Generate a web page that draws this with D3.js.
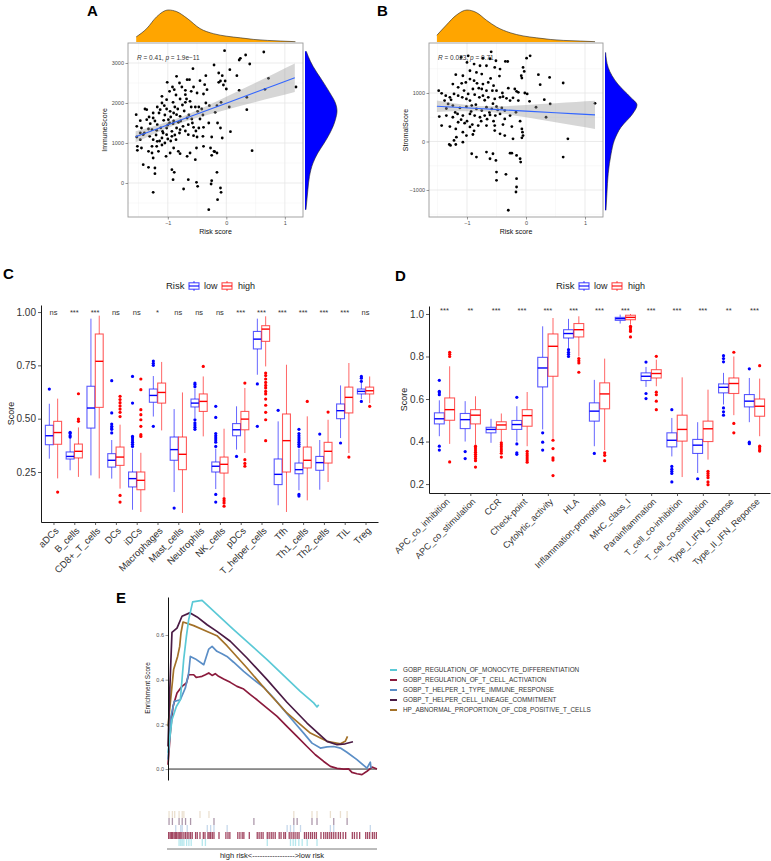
<!DOCTYPE html>
<html><head><meta charset="utf-8">
<script src="https://cdn.jsdelivr.net/npm/d3@7"></script>
<style>
body{margin:0;background:#fff}
svg{display:block}
text{font-family:"Liberation Sans",Arial,Helvetica,sans-serif}
</style>
</head><body>
<svg id="c" width="771" height="861"></svg>
<script>
// ---------------- DATA ----------------
// Panel A: risk score vs ImmuneScore
const pointsA = [
[-0.03,3308],[0.64,3275],[0.33,3200],[0.24,3117],[0.22,3075],[0.40,2975],[-0.21,2950],[-0.57,2858],[0.06,2833],[-0.13,2750],[-0.35,2683],[-0.07,2683],[0.18,2683],[-0.85,2667],[0.72,2617],[-0.67,2583],[-0.63,2583],[-0.45,2558],[-0.10,2550],[-1.01,2517],[-0.13,2517],[-0.80,2500],[-0.76,2400],[-0.56,2400],[-0.37,2458],[-0.33,2333],[0.00,2350],[0.22,2317],[0.66,2342],[1.19,2400],[-0.89,2333],[-0.70,2317],[-0.97,2292],[-0.60,2292],[-0.50,2250],[-0.39,2225],[-1.10,2167],[-1.02,2083],[-0.79,2100],[-0.70,2208],[0.35,2142],[-0.09,2017],[-0.91,2017],[-0.70,2017],[-0.62,2042],[-0.53,1900],[-0.47,1900],[-0.42,1850],[-0.29,1933],[-0.16,1933],[-0.49,1792],[-0.19,1767],[0.35,1833],[-1.10,2000],[-1.06,1933],[-1.18,1900],[-1.25,1750],[-1.36,1833],[-1.39,1850],[-1.13,1833],[-1.02,1850],[-0.96,1792],[-0.90,1750],[-0.85,1708],[-0.79,1667],[-0.67,1625],[-0.59,1600],[-1.25,1625],[-1.30,1483],[-1.18,1458],[-1.07,1567],[-0.99,1583],[-0.91,1483],[-0.82,1517],[-0.74,1417],[-0.65,1458],[-0.56,1392],[-0.85,1375],[-0.79,1333],[-1.02,1375],[-0.93,1292],[-1.09,1292],[-1.19,1317],[-1.27,1333],[-1.33,1350],[-1.45,1375],[-1.53,1417],[-1.54,1708],[-1.47,1558],[-1.36,1583],[-0.10,1375],[0.07,1283],[-0.39,1392],[-0.47,1375],[-0.65,1208],[-0.56,1183],[-0.50,1150],[-0.40,1167],[-0.07,1125],[-0.27,875],[-0.21,792],[-0.39,917],[-0.51,875],[-0.62,750],[-0.67,667],[-0.53,583],[-1.47,1250],[-1.53,1150],[-1.42,1208],[-1.31,1167],[-1.25,1083],[-1.18,1042],[-1.10,1125],[-1.02,1208],[-0.93,1167],[-0.86,1083],[-1.19,917],[-1.27,917],[-1.33,792],[-1.27,750],[-1.16,792],[-1.47,1083],[-1.52,917],[-1.45,875],[-1.52,817],[-0.90,875],[-0.82,792],[-0.96,750],[-1.03,667],[-0.79,733],[-1.25,625],[0.44,808],[-0.16,750],[-0.20,783],[-0.25,692],[-1.42,458],[-1.33,392],[-1.22,375],[-1.22,233],[-0.93,333],[-0.89,267],[-0.91,83],[-1.25,-233],[-0.65,83],[-0.51,17],[-0.49,-83],[-0.25,58],[-0.26,-25],[-0.16,267],[-0.10,-125],[-0.15,-417],[-0.73,-150],[-0.30,-667],[-0.09,-233],
[-1.15,1750],[-1.05,1700],[-0.95,1650],[-0.88,1900],[-0.83,1850],[-0.75,1950],[-0.72,1800],[-1.00,1450],[-0.97,1500],[-0.90,1550],[-1.12,1380],[-1.08,1250],[-1.00,1100],[-0.95,1050],[-1.20,1200],[-1.05,1000],[-0.88,1200],[-0.80,1250],[-0.70,1300],[-0.78,1550],[-0.64,1700],[-0.60,1900],[-0.68,2100],[-0.86,2200],[-0.92,2400],[-1.14,1050],[-1.10,950],[-1.22,1550],[-1.32,1650],[-1.40,1250],[-0.58,1500],[-0.52,1300],[-0.45,1600],[-0.40,1700],[-0.30,1500],[-0.35,2000],[-0.25,1150],[-0.15,1500],[-0.05,2450],[-0.02,2550],[0.05,1900]
];
// fitted line + 95% band: [x, fit, lower, upper]
const fitA = [[-1.55,1155,1016,1294],[-1.2,1345,1253,1437],[-0.85,1535,1465,1605],[-0.5,1725,1633,1817],[0,1996,1834,2158],[0.5,2267,2025,2509],[0.85,2456,2156,2756],[1.17,2630,2275,2985]];
const densTopA = [[-1.54,0.16],[-1.36,0.42],[-1.19,0.79],[-0.99,1.0],[-0.85,0.95],[-0.67,0.74],[-0.45,0.42],[-0.22,0.26],[0.01,0.18],[0.24,0.13],[0.47,0.08],[0.70,0.05],[0.93,0.03],[1.18,0.01]];
const densRightA = [[3292,0.04],[3167,0.1],[2917,0.25],[2583,0.52],[2250,0.78],[2000,0.95],[1800,1.0],[1583,0.95],[1250,0.78],[1000,0.6],[750,0.4],[500,0.25],[167,0.14],[-167,0.09],[-500,0.05],[-667,0.03]];

// Panel B: risk score vs StromalScore
const pointsB = [
[-0.59,1850],[-0.98,1767],[-1.10,1733],[-0.73,1719],[-0.61,1706],[-0.51,1665],[-0.35,1651],[-1.00,1630],[-0.88,1596],[-0.78,1562],[-0.67,1562],[-0.53,1528],[-0.44,1493],[0.07,1767],[0.01,1719],[-0.05,1528],[-0.03,1445],[-0.08,1356],[-0.07,1308],[-1.19,1377],[-1.07,1356],[-0.95,1459],[-0.84,1425],[-0.75,1391],[-1.02,1219],[-0.95,1288],[-0.88,1254],[-0.83,1199],[-0.73,1185],[-0.64,1219],[-1.09,1199],[-1.24,1185],[-1.15,1117],[-0.90,1082],[-0.75,1082],[-0.67,1048],[-0.57,1048],[-0.50,1048],[-0.19,1082],[-0.16,1034],[-0.13,1014],[0.21,1377],[0.24,1171],[0.40,1322],[0.63,1206],[-1.48,1048],[-1.43,993],[-1.36,945],[-1.29,911],[-1.22,980],[-1.15,945],[-1.08,911],[-1.01,877],[-0.95,843],[-0.87,966],[-0.79,911],[-0.73,945],[-0.64,911],[-0.53,877],[-0.44,911],[-0.39,925],[-0.33,891],[-1.38,843],[-1.32,774],[-1.24,740],[-1.12,692],[-1.01,719],[-0.92,740],[-0.84,671],[-0.75,637],[-0.67,706],[-0.58,671],[-0.50,719],[-0.41,692],[-0.36,637],[-0.27,843],[-0.13,843],[0.06,829],[0.17,706],[0.31,863],[0.41,774],[0.34,500],[-1.47,514],[-1.35,534],[-1.24,500],[-1.16,569],[-1.07,534],[-0.95,569],[-0.87,534],[-0.78,500],[-0.70,534],[-0.61,548],[-0.52,534],[-0.44,569],[-0.36,466],[-0.27,534],[-0.17,603],[-1.15,397],[-1.04,377],[-0.91,349],[-0.81,329],[-0.67,329],[-0.53,329],[-0.39,349],[-0.24,308],[-1.43,329],[-1.29,308],[-0.10,418],[-1.19,260],[-1.07,192],[-1.01,123],[-0.90,144],[-1.18,89],[-1.22,21],[-1.07,-14],[-1.30,-62],[-1.28,-82],[-1.19,-62],[-0.53,226],[-0.44,158],[-0.36,123],[-0.22,55],[-0.07,75],[-0.05,123],[-0.06,192],[-0.07,260],[0.71,55],[0.63,-322],[-0.92,-253],[-0.84,-322],[-0.67,-219],[-0.56,-253],[-0.61,-356],[-0.51,-390],[-0.50,-630],[-0.50,-801],[-0.34,-678],[-0.24,-240],[-0.16,-288],[-0.10,-356],[-0.09,-425],[-0.16,-767],[-0.16,-938],[-0.17,-1041],[-0.30,-1418],[-0.27,-240],[1.17,788],
[-1.05,1050],[-0.98,980],[-0.93,620],[-0.85,760],[-0.80,1100],[-0.70,850],[-0.62,600],[-0.56,780],[-0.48,650],[-0.40,1000],[-1.20,600],[-1.10,450],[-1.00,420],[-0.95,300],[-0.88,220],[-0.76,420],[-0.66,460],[-0.55,420],[-1.35,680],[-1.27,860],[-0.60,1300],[-0.55,1150],[-0.45,1350],[-0.31,1650],[-0.30,1100],[-0.22,900],[-0.02,1000],[0.02,980]
];
const fitB = [[-1.51,726,609,843],[-1.2,705,625,785],[-0.8,679,624,734],[-0.4,652,575,729],[0,626,498,754],[0.5,593,397,789],[0.85,569,324,814],[1.17,548,258,838]];
const densTopB = [[-1.51,0.21],[-1.35,0.53],[-1.18,0.84],[-1.0,1.0],[-0.84,0.92],[-0.67,0.68],[-0.5,0.47],[-0.27,0.29],[-0.05,0.19],[0.18,0.13],[0.41,0.08],[0.63,0.05],[0.92,0.03],[1.17,0.01]];
const densRightB = [[1836,0.02],[1527,0.1],[1185,0.4],[911,0.8],[753,1.0],[568,0.86],[295,0.5],[21,0.29],[-253,0.19],[-664,0.1],[-1075,0.06],[-1418,0.03]];

// Panel C: immune cells   stats = [lowerWhisker, q1, median, q3, upperWhisker]
const cellTypes = ["aDCs","B_cells","CD8+_T_cells","DCs","iDCs","Macrophages","Mast_cells","Neutrophils","NK_cells","pDCs","T_helper_cells","Tfh","Th1_cells","Th2_cells","TIL","Treg"];
const cellSig = ["ns","***","***","ns","ns","*","ns","ns","ns","***","***","***","***","***","***","ns"];
const cellLow = [[0.3125,0.378,0.42,0.469,0.57],[0.258,0.311,0.323,0.344,0.409],[0.234,0.456,0.55,0.652,0.969],[0.219,0.273,0.305,0.336,0.40],[0.073,0.18,0.219,0.25,0.36],[0.51,0.577,0.609,0.639,0.70],[0.156,0.305,0.355,0.414,0.545],[0.503,0.555,0.573,0.592,0.64],[0.17,0.25,0.277,0.297,0.36],[0.355,0.42,0.448,0.477,0.558],[0.706,0.827,0.873,0.909,0.969],[0.094,0.191,0.239,0.311,0.4875],[0.164,0.242,0.261,0.292,0.36],[0.167,0.258,0.294,0.323,0.40],[0.409,0.5,0.5375,0.569,0.656],[0.592,0.616,0.628,0.639,0.67]];
const cellHigh = [[0.22,0.38,0.435,0.4875,0.594],[0.227,0.316,0.347,0.381,0.459],[0.22,0.553,0.769,0.897,0.983],[0.172,0.281,0.32,0.367,0.472],[0.0625,0.167,0.211,0.25,0.34],[0.445,0.573,0.623,0.667,0.766],[0.058,0.261,0.333,0.414,0.623],[0.417,0.534,0.581,0.616,0.698],[0.133,0.245,0.286,0.32,0.453],[0.339,0.448,0.498,0.534,0.644],[0.745,0.8625,0.92,0.936,0.98],[0.0625,0.25,0.397,0.522,0.753],[0.117,0.269,0.305,0.367,0.511],[0.203,0.292,0.347,0.389,0.495],[0.339,0.527,0.6,0.648,0.761],[0.573,0.616,0.631,0.648,0.698]];
const cellLowOut = [[0.639],[0.414,0.42,0.43,0.436],[],[0.433,0.45,0.456,0.464,0.475,0.527,0.678],[0.37,0.38,0.39,0.40,0.41,0.417,0.573,0.698],[0.464,0.75,0.76,0.77],[0.081],[0.45,0.46,0.47,0.48,0.495,0.65,0.66,0.667],[0.37,0.39,0.40,0.41,0.42,0.43,0.506,0.558,0.145,0.109],[0.323],[0.663,0.464],[0.539],[0.37,0.38,0.39,0.40,0.41,0.42,0.43,0.45,0.145,0.137],[0.428],[0.386],[0.675,0.69,0.698,0.581]];
const cellHighOut = [[0.156],[0.4875,0.498,0.617],[],[0.51,0.53,0.545,0.56,0.575,0.59,0.605,0.14,0.109],[0.417,0.425,0.464,0.495,0.519,0.542,0.636,0.686],[],[],[0.745],[0.125,0.115,0.105,0.09],[0.667,0.308,0.29,0.277],[0.714,0.702,0.686,0.67,0.656,0.644,0.628,0.616,0.592,0.563,0.53,0.495,0.397],[],[0.581],[0.531],[0.32],[0.558]];

// Panel D: immune functions
const functions = ["APC_co_inhibition","APC_co_stimulation","CCR","Check-point","Cytolytic_activity","HLA","Inflammation-promoting","MHC_class_I","Parainflammation","T_cell_co-inhibition","T_cell_co-stimulation","Type_I_IFN_Reponse","Type_II_IFN_Reponse"];
const funcSig = ["***","**","***","***","***","***","***","***","***","***","***","**","***"];
const funcLow = [[0.425,0.483,0.507,0.535,0.594],[0.40,0.461,0.503,0.532,0.59],[0.394,0.441,0.457,0.467,0.507],[0.40,0.457,0.48,0.499,0.566],[0.457,0.657,0.746,0.796,0.942],[0.84,0.887,0.908,0.926,0.977],[0.378,0.496,0.543,0.582,0.69],[0.955,0.97,0.978,0.984,0.997],[0.657,0.687,0.707,0.723,0.751],[0.33,0.375,0.406,0.441,0.511],[0.252,0.344,0.383,0.41,0.491],[0.574,0.629,0.655,0.671,0.723],[0.491,0.563,0.59,0.621,0.699]];
const funcHigh = [[0.389,0.50,0.55,0.605,0.754],[0.386,0.483,0.524,0.55,0.613],[0.40,0.457,0.478,0.493,0.532],[0.378,0.472,0.522,0.55,0.633],[0.413,0.707,0.848,0.906,0.981],[0.80,0.892,0.926,0.955,0.989],[0.36,0.554,0.624,0.676,0.79],[0.95,0.973,0.984,0.994,1.0],[0.66,0.699,0.72,0.738,0.785],[0.233,0.402,0.457,0.524,0.702],[0.315,0.40,0.46,0.496,0.644],[0.524,0.626,0.673,0.699,0.80],[0.425,0.519,0.566,0.60,0.696]];
const funcLowOut = [[0.62,0.63,0.636,0.688,0.378,0.36],[0.353,0.32],[],[0.608,0.389,0.347,0.34],[0.441,0.397,0.36],[0.832,0.82,0.81,0.80],[0.344],[],[0.774,0.626,0.602],[0.55,0.283,0.27,0.26,0.25,0.21],[0.225],[0.775,0.79,0.804,0.558,0.54,0.524],[0.742,0.397,0.39]];
const funcHighOut = [[0.80,0.81,0.82,0.304],[0.378,0.37,0.36,0.35,0.34,0.33,0.32,0.31,0.28],[0.394,0.385,0.375,0.365,0.355,0.345,0.327],[0.354,0.343,0.333,0.323,0.313,0.303],[0.406,0.367,0.323,0.313,0.24],[0.79,0.78,0.77,0.726],[0.347,0.335,0.31],[0.942,0.935,0.925,0.918,0.892],[0.801,0.632,0.62,0.59,0.55],[],[0.26,0.25,0.24,0.23,0.21,0.197],[0.82,0.485,0.441],[0.757,0.378,0.37,0.36,0.355]];

// Panel E: GSEA running enrichment scores  [rank position (%), ES]
const geneSets = ["GOBP_REGULATION_OF_MONOCYTE_DIFFERENTIATION","GOBP_REGULATION_OF_T_CELL_ACTIVATION","GOBP_T_HELPER_1_TYPE_IMMUNE_RESPONSE","GOBP_T_HELPER_CELL_LINEAGE_COMMITMENT","HP_ABNORMAL_PROPORTION_OF_CD8_POSITIVE_T_CELLS"];
const esMonocyte = [[0,0.072],[1.9,0.221],[4.0,0.28],[5.9,0.31],[7.5,0.49],[8.8,0.594],[9.9,0.669],[11.8,0.748],[16.3,0.755],[31.4,0.624],[47.4,0.49],[63.3,0.348],[69.7,0.296],[71.3,0.278],[72.1,0.288]];
const esTcellAct = [[0,0.019],[1.1,0.161],[2.4,0.28],[4.3,0.34],[6.7,0.37],[8.8,0.385],[9.9,0.422],[12.3,0.422],[13.5,0.41],[14.7,0.412],[16.3,0.415],[17.9,0.422],[19.5,0.43],[21.1,0.419],[22.6,0.427],[24.2,0.415],[26.6,0.403],[29.8,0.388],[33.0,0.37],[36.2,0.358],[39.4,0.333],[42.6,0.31],[47.4,0.273],[52.2,0.236],[56.9,0.191],[61.7,0.146],[66.5,0.101],[70.5,0.064],[74.5,0.034],[77.7,0.012],[80.9,0.003],[84.1,0.0],[86.4,0.001],[88.0,-0.015],[90.4,-0.021],[92.8,-0.025],[95.2,-0.01],[97.6,0.009],[100,0.0]];
const esTh1 = [[0,0.042],[1.4,0.236],[3.0,0.303],[5.9,0.31],[8.3,0.363],[9.9,0.43],[10.7,0.504],[13.1,0.493],[17.1,0.467],[19.5,0.537],[21.1,0.549],[23.4,0.527],[25.8,0.516],[28.2,0.504],[31.4,0.478],[36.2,0.437],[41.0,0.4],[45.8,0.366],[50.6,0.318],[55.3,0.266],[60.1,0.213],[64.9,0.161],[68.9,0.116],[72.9,0.094],[76.1,0.099],[79.3,0.101],[82.5,0.094],[85.6,0.075],[90.4,0.042],[95.2,0.004],[96.8,0.031],[97.1,0.004]];
const esThLineage = [[0,0.101],[0.8,0.34],[1.9,0.612],[4.3,0.631],[6.7,0.684],[10.4,0.699],[13.9,0.681],[18.7,0.646],[23.4,0.616],[29.8,0.572],[37.8,0.497],[47.4,0.4],[56.9,0.299],[66.5,0.206],[76.1,0.124],[80.9,0.109],[84.8,0.113],[88.5,0.122]];
const esCD8 = [[0,0.191],[1.1,0.296],[2.7,0.445],[4.6,0.504],[5.6,0.549],[6.2,0.609],[7.2,0.658],[12.3,0.642],[18.7,0.616],[23.4,0.597],[28.2,0.552],[37.8,0.452],[47.4,0.348],[56.9,0.251],[68.1,0.161],[76.1,0.124],[82.5,0.113],[84.8,0.124],[85.9,0.146]];
// hit positions (%) for the rug, one row per gene set
const hitsCD8 = [0.5,2.1,3.2,5.3,6.8,7.6,15.3,19.6,60.2,68.9,71.3,77.7,82.5,85.7];
const hitsThLineage = [0.5,2.1,5.3,6.8,8.4,10.8,22.0,41.1,60.2,61.8,68.9,71.3,79.3,85.7];
const hitsTh1 = [3.7,6.1,6.8,9.2,18.8,20.4,22.0,28.3,57.0,58.6,60.2,63.4,77.7,79.3,96.8];
const hitsTcellAct = [0.3,1.0,1.6,2.2,2.9,3.5,4.1,4.8,5.4,6.1,6.7,7.6,8.4,9.2,10.0,10.8,11.6,13.2,14.0,15.3,16.9,17.7,19.1,19.7,20.4,21.2,22.0,24.4,27.7,28.7,29.6,33.4,34.4,35.5,36.3,38.9,42.7,43.6,44.6,45.5,47.5,48.4,49.4,50.3,51.3,53.2,54.1,55.4,56.2,58.0,58.9,59.9,60.8,61.8,62.7,65.3,66.2,67.2,68.2,69.1,70.1,71.0,73.2,74.5,75.5,76.4,77.4,78.3,79.3,80.3,81.5,82.5,83.8,85.0,88.2,89.2,90.4,91.7,94.6,95.5,96.5,97.8,98.7,99.7];
const hitsMonocyte = [5.3,6.1,6.8,7.6,8.9,10.0,11.1,16.4,17.9,47.5,58.6,59.9,61.0,62.6,64.2,66.6,71.3];

// ---------------- DRAWING ----------------
const svg = d3.select("#c");
const setColors = ["#5BC9D6","#8B1A3C","#5B8EC6","#4A1B44","#A37128"];

function label(t, x, y){
  svg.append("text").attr("x",x).attr("y",y).text(t)
    .style("font-size","15px").style("font-weight","bold").attr("fill","#000");
}

function scatter(o){
  const g = svg.append("g");
  const x = d3.scaleLinear().domain(o.xd).range([o.l,o.r]);
  const y = d3.scaleLinear().domain(o.yd).range([o.b,o.t]);
  o.xMinor.forEach(v=>g.append("line").attr("x1",x(v)).attr("x2",x(v)).attr("y1",o.t).attr("y2",o.b).attr("stroke","#F2F2F2").attr("stroke-width",0.5));
  o.yMinor.forEach(v=>g.append("line").attr("y1",y(v)).attr("y2",y(v)).attr("x1",o.l).attr("x2",o.r).attr("stroke","#F2F2F2").attr("stroke-width",0.5));
  o.xt.forEach(v=>g.append("line").attr("x1",x(v)).attr("x2",x(v)).attr("y1",o.t).attr("y2",o.b).attr("stroke","#E6E6E6").attr("stroke-width",0.8));
  o.yt.forEach(v=>g.append("line").attr("y1",y(v)).attr("y2",y(v)).attr("x1",o.l).attr("x2",o.r).attr("stroke","#E6E6E6").attr("stroke-width",0.8));
  g.selectAll("circle.pt").data(o.pts).enter().append("circle")
    .attr("cx",d=>x(d[0])).attr("cy",d=>y(d[1])).attr("r",1.4).attr("fill","#000");
  g.append("path").datum(o.fit)
    .attr("d",d3.area().x(d=>x(d[0])).y0(d=>y(d[2])).y1(d=>y(d[3])).curve(d3.curveMonotoneX))
    .attr("fill","#999999").attr("fill-opacity",0.4);
  g.append("path").datum(o.fit)
    .attr("d",d3.line().x(d=>x(d[0])).y(d=>y(d[1])))
    .attr("fill","none").attr("stroke","#3366FF").attr("stroke-width",1.1);
  g.append("rect").attr("x",o.l).attr("y",o.t).attr("width",o.r-o.l).attr("height",o.b-o.t)
    .attr("fill","none").attr("stroke","#9A9A9A").attr("stroke-width",0.9);
  const fmt = d=> d<0 ? "\u2212"+Math.abs(d) : String(d);
  const ax = g.append("g").attr("transform",`translate(0,${o.b})`)
    .call(d3.axisBottom(x).tickValues(o.xt).tickSize(2.5).tickSizeOuter(0).tickPadding(1.5).tickFormat(fmt));
  const ay = g.append("g").attr("transform",`translate(${o.l},0)`)
    .call(d3.axisLeft(y).tickValues(o.yt).tickSize(2.5).tickSizeOuter(0).tickPadding(1.5).tickFormat(fmt));
  [ax,ay].forEach(a=>{
    a.select(".domain").remove();
    a.selectAll("line").attr("stroke","#555").attr("stroke-width",0.6);
    a.selectAll("text").attr("fill","#4D4D4D").style("font-size","5.5px").style("font-family","'Liberation Sans',Arial,sans-serif");
  });
  g.append("text").attr("x",(o.l+o.r)/2).attr("y",o.b+17).attr("text-anchor","middle")
    .style("font-size","7px").attr("fill","#111").text("Risk score");
  g.append("text").attr("transform",`translate(${o.l-21},${(o.t+o.b)/2}) rotate(-90)`).attr("text-anchor","middle")
    .style("font-size","7px").attr("fill","#111").text(o.yTitle);
  const st = g.append("text").attr("x",o.l+9).attr("y",o.t+17).style("font-size","6.5px").attr("fill","#333");
  st.append("tspan").style("font-style","italic").text("R");
  st.append("tspan").text(" = "+o.r2+", ");
  st.append("tspan").style("font-style","italic").text("p");
  st.append("tspan").text(" = "+o.pv);
  // marginal densities
  const dh = d3.scaleLinear().domain([0,1]).range([42,10]);
  g.append("path").datum(o.dTop)
    .attr("d",d3.area().x(d=>x(d[0])).y0(42).y1(d=>dh(d[1])).curve(d3.curveMonotoneX))
    .attr("fill","#FFA500");
  g.append("path").datum(o.dTop)
    .attr("d",d3.line().x(d=>x(d[0])).y(d=>dh(d[1])).curve(d3.curveMonotoneX))
    .attr("fill","none").attr("stroke","#222").attr("stroke-width",0.6);
  const dw = d3.scaleLinear().domain([0,1]).range([o.r+2,o.r+34]);
  g.append("path").datum(o.dRight)
    .attr("d",d3.area().y(d=>y(d[0])).x0(o.r+2).x1(d=>dw(d[1])).curve(d3.curveMonotoneY))
    .attr("fill","#0000FF");
  g.append("path").datum(o.dRight)
    .attr("d",d3.line().y(d=>y(d[0])).x(d=>dw(d[1])).curve(d3.curveMonotoneY))
    .attr("fill","none").attr("stroke","#222").attr("stroke-width",0.6);
}

scatter({l:128,r:303,t:43,b:217,xd:[-1.68,1.31],yd:[-850,3500],xt:[-1,0,1],yt:[0,1000,2000,3000],
  xMinor:[-1.5,-0.5,0.5],yMinor:[-500,500,1500,2500],pts:pointsA,fit:fitA,dTop:densTopA,dRight:densRightA,
  yTitle:"ImmuneScore",r2:"0.41",pv:"1.9e\u221211"});
scatter({l:429,r:603,t:43,b:217,xd:[-1.644,1.305],yd:[-1557,2031],xt:[-1,0,1],yt:[-1000,0,1000],
  xMinor:[-1.5,-0.5,0.5],yMinor:[-1500,-500,500,1500],pts:pointsB,fit:fitB,dTop:densTopB,dRight:densRightB,
  yTitle:"StromalScore",r2:"0.023",pv:"0.71"});

function legendRisk(x0, yc){
  const g = svg.append("g");
  g.append("text").attr("x",x0).attr("y",yc+3.3).style("font-size","9.5px").attr("fill","#222").text("Risk");
  [["low","#0000FF",x0+23,x0+38],["high","#FF0000",x0+56,x0+72]].forEach(([t,c,gx,tx])=>{
    g.append("line").attr("x1",gx+5).attr("x2",gx+5).attr("y1",yc-5).attr("y2",yc+5).attr("stroke",c).attr("stroke-opacity",0.7);
    g.append("rect").attr("x",gx).attr("y",yc-3.2).attr("width",10).attr("height",6.4).attr("fill","#fff").attr("stroke",c).attr("stroke-opacity",0.7).attr("stroke-width",1.1);
    g.append("line").attr("x1",gx).attr("x2",gx+10).attr("y1",yc).attr("y2",yc).attr("stroke",c).attr("stroke-width",1.1);
    g.append("text").attr("x",tx).attr("y",yc+3.2).style("font-size","9px").attr("fill","#222").text(t);
  });
}

function boxPanel(o){
  const g = svg.append("g");
  const x = d3.scalePoint().domain(o.cats).range([o.l,o.r]).padding(0.6);
  const y = d3.scaleLinear().domain(o.yd).range([o.b,o.t]);
  const step = x.step(), bw = step*0.38, off = step*0.2;
  [[o.low,o.lowOut,-off,"#0000FF"],[o.high,o.highOut,off,"#FF0000"]].forEach(([stats,outs,dx,col])=>{
    stats.forEach((s,i)=>{
      const cx = x(o.cats[i])+dx;
      g.append("line").attr("x1",cx).attr("x2",cx).attr("y1",y(s[0])).attr("y2",y(s[1])).attr("stroke",col).attr("stroke-opacity",0.6).attr("stroke-width",1);
      g.append("line").attr("x1",cx).attr("x2",cx).attr("y1",y(s[3])).attr("y2",y(s[4])).attr("stroke",col).attr("stroke-opacity",0.6).attr("stroke-width",1);
      g.append("rect").attr("x",cx-bw/2).attr("y",y(s[3])).attr("width",bw).attr("height",y(s[1])-y(s[3]))
        .attr("fill","#fff").attr("stroke",col).attr("stroke-opacity",0.65).attr("stroke-width",1.1);
      g.append("line").attr("x1",cx-bw/2).attr("x2",cx+bw/2).attr("y1",y(s[2])).attr("y2",y(s[2])).attr("stroke",col).attr("stroke-width",1.4);
      outs[i].forEach(v=>g.append("circle").attr("cx",cx).attr("cy",y(v)).attr("r",1.6).attr("fill",col));
    });
  });
  o.sig.forEach((s,i)=>g.append("text").attr("x",x(o.cats[i])).attr("y",o.sigY).attr("text-anchor","middle")
    .style("font-size","7.5px").attr("fill","#333").text(s));
  const ay = g.append("g").attr("transform",`translate(${o.l},0)`)
    .call(d3.axisLeft(y).tickValues(o.yt).tickFormat(d3.format(o.fmt)).tickSize(3).tickSizeOuter(0).tickPadding(2));
  const ax = g.append("g").attr("transform",`translate(0,${o.b})`)
    .call(d3.axisBottom(x).tickSize(3).tickSizeOuter(0));
  [ax,ay].forEach(a=>{
    a.select(".domain").attr("stroke","#000").attr("stroke-width",0.9);
    a.selectAll(".tick line").attr("stroke","#333").attr("stroke-width",0.8);
    a.selectAll("text").attr("fill","#333").style("font-family","'Liberation Sans',Arial,sans-serif");
  });
  ay.selectAll("text").style("font-size","10px");
  ax.selectAll("text").style("font-size",o.xfs).style("text-anchor","end")
    .attr("x",0).attr("y",0).attr("dy","0.35em").attr("transform","translate(3,7) rotate(-45)");
  g.append("text").attr("transform",`translate(${o.yTitleX},${(o.t+o.b)/2}) rotate(-90)`).attr("text-anchor","middle")
    .style("font-size","9px").attr("fill","#222").text("Score");
}

boxPanel({cats:cellTypes,sig:cellSig,low:cellLow,high:cellHigh,lowOut:cellLowOut,highOut:cellHighOut,
  l:41,r:378,t:305,b:522,yd:[0.0156,1.033],yt:[0.25,0.5,0.75,1.0],fmt:".2f",sigY:315,yTitleX:14,xfs:"9.5px"});
boxPanel({cats:functions,sig:funcSig,low:funcLow,high:funcHigh,lowOut:funcLowOut,highOut:funcHighOut,
  l:429,r:770,t:306,b:493,yd:[0.158,1.0375],yt:[0.2,0.4,0.6,0.8,1.0],fmt:".1f",sigY:313,yTitleX:407,xfs:"9px"});
legendRisk(166,286);
legendRisk(556,286);

// Panel E
(function(){
  const g = svg.append("g");
  const xE = d3.scaleLinear().domain([0,100]).range([168,377]);
  const yE = d3.scaleLinear().domain([-0.049,0.77]).range([780,597]);
  g.append("line").attr("x1",xE(0)).attr("x2",xE(100)).attr("y1",yE(0)).attr("y2",yE(0)).attr("stroke","#111").attr("stroke-width",0.9);
  const series = [esMonocyte,esTcellAct,esTh1,esThLineage,esCD8];
  const order = [1,2,4,3,0];
  const line = d3.line().x(d=>xE(d[0])).y(d=>yE(d[1]));
  order.forEach(i=>g.append("path").datum(series[i]).attr("d",line).attr("fill","none")
    .attr("stroke",setColors[i]).attr("stroke-width",1.7).attr("stroke-linejoin","round"));
  const ay = g.append("g").attr("transform","translate(168,0)")
    .call(d3.axisLeft(yE).tickValues([0,0.2,0.4,0.6]).tickFormat(d3.format(".1f")).tickSize(2.5).tickSizeOuter(0).tickPadding(1.5));
  ay.select(".domain").attr("stroke","#111").attr("stroke-width",1);
  ay.selectAll(".tick line").attr("stroke","#555").attr("stroke-width",0.6);
  ay.selectAll("text").attr("fill","#4D4D4D").style("font-size","5.5px").style("font-family","'Liberation Sans',Arial,sans-serif");
  g.append("text").attr("transform","translate(150,688) rotate(-90)").attr("text-anchor","middle")
    .style("font-size","6.5px").attr("fill","#222").text("Enrichment Score");
  // legend
  geneSets.forEach((s,i)=>{
    const yy = 670 + i*10;
    g.append("line").attr("x1",390).attr("x2",397).attr("y1",yy).attr("y2",yy).attr("stroke",setColors[i]).attr("stroke-width",2);
    g.append("text").attr("x",403).attr("y",yy+2.3).style("font-size","6.4px").attr("fill","#333").text(s);
  });
  // rug rows (top to bottom)
  const rows = [[hitsCD8,4,0.22],[hitsThLineage,3,0.45],[hitsTh1,2,0.35],[hitsTcellAct,1,0.8],[hitsMonocyte,0,0.45]];
  rows.forEach(([hits,ci,op],r)=>{
    const top = 811 + r*7;
    hits.forEach(h=>g.append("line").attr("x1",xE(h)).attr("x2",xE(h)).attr("y1",top).attr("y2",top+7)
      .attr("stroke",setColors[ci]).attr("stroke-opacity",op).attr("stroke-width",1.3));
  });
  g.append("line").attr("x1",167).attr("x2",377).attr("y1",849).attr("y2",849).attr("stroke","#555").attr("stroke-width",0.8);
  g.append("text").attr("x",272).attr("y",858).attr("text-anchor","middle").style("font-size","7.5px").attr("fill","#222")
    .text("high risk<----------------->low risk");
})();

label("A",87,15.5);
label("B",377,15.5);
label("C",3,279);
label("D",395,281);
label("E",116,603);
</script>
</body></html>
